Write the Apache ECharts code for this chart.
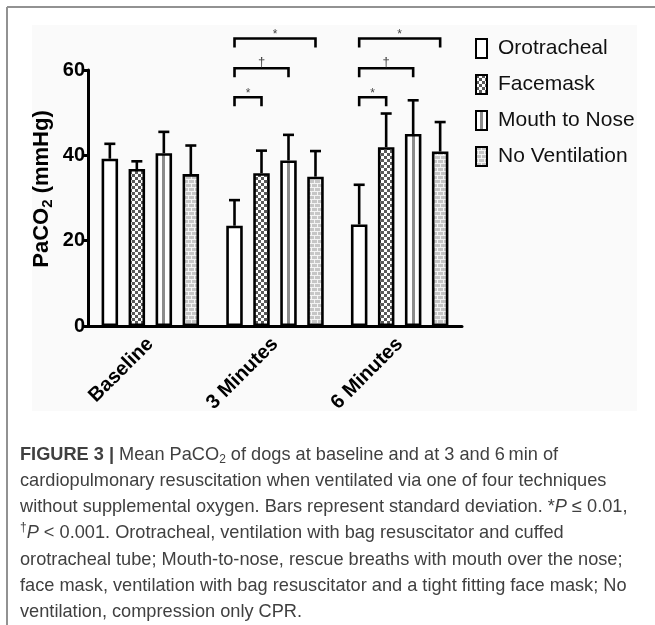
<!DOCTYPE html>
<html><head><meta charset="utf-8">
<script src="https://cdn.jsdelivr.net/npm/echarts@6/dist/echarts.min.js"></script>
<style>html,body{margin:0;padding:0;background:#fff}#c{width:655px;height:625px}</style>
</head><body><div id="c"></div>
<script>
// ---------------- data ----------------
const categories = ['Baseline', '3 Minutes', '6 Minutes'];
const seriesNames = ['Orotracheal', 'Facemask', 'Mouth to Nose', 'No Ventilation'];
const orotrachealMean = [39.2, 23.5, 23.8];
const facemaskMean = [36.8, 35.8, 41.9];
const mouthToNoseMean = [40.5, 38.8, 45.0];
const noVentilationMean = [35.6, 35.0, 40.9];
const orotrachealSD = [3.5, 6.0, 9.3];
const facemaskSD = [1.8, 5.3, 7.9];
const mouthToNoseSD = [5.0, 6.0, 7.9];
const noVentilationSD = [6.7, 6.0, 6.9];
const yTicks = [0, 20, 40, 60];
// significance brackets (category index, from series, to series, level in mmHg, mark)
const bracketCategory = [1, 1, 1, 2, 2, 2];
const bracketFrom = [0, 0, 0, 0, 0, 0];
const bracketTo = [1, 2, 3, 1, 2, 3];
const bracketLevel = [53.6, 60.4, 67.4, 53.6, 60.4, 67.4];
const bracketMark = ['*', '\u2020', '*', '*', '\u2020', '*'];

// ---------------- styling helpers ----------------
const FAMILY = '"Liberation Sans", Arial, Helvetica, sans-serif';
const BAR_W = 16.5, BAR_GAP = 0.636;
const BAR_STEP = BAR_W * (1 + BAR_GAP);

function checkerPattern() {
  const c = document.createElement('canvas'); c.width = 6; c.height = 6;
  const g = c.getContext('2d');
  g.fillStyle = '#ffffff'; g.fillRect(0, 0, 6, 6);
  g.fillStyle = '#5a5a5a'; g.fillRect(0, 0, 3, 3); g.fillRect(3, 3, 3, 3);
  return { image: c, repeat: 'repeat' };
}
function brickPattern() {
  const c = document.createElement('canvas'); c.width = 12; c.height = 8;
  const g = c.getContext('2d');
  g.fillStyle = '#f4f4f4'; g.fillRect(0, 0, 12, 8);
  g.fillStyle = '#c6c6c6';
  g.fillRect(0, 0, 5, 3); g.fillRect(6, 0, 5, 3);
  g.fillRect(-3, 4, 5, 3); g.fillRect(3, 4, 5, 3); g.fillRect(9, 4, 5, 3);
  return { image: c, repeat: 'repeat' };
}
const stripe = {
  type: 'linear', x: 0, y: 0, x2: 1, y2: 0,
  colorStops: [
    { offset: 0, color: '#ffffff' }, { offset: 0.4, color: '#ffffff' },
    { offset: 0.4, color: '#8c8c8c' }, { offset: 0.6, color: '#8c8c8c' },
    { offset: 0.6, color: '#ffffff' }, { offset: 1, color: '#ffffff' }
  ]
};
const fills = ['#ffffff', checkerPattern(), stripe, brickPattern()];

const means = [orotrachealMean, facemaskMean, mouthToNoseMean, noVentilationMean];
const sds = [orotrachealSD, facemaskSD, mouthToNoseSD, noVentilationSD];

const errData = [];
means.forEach((m, s) => m.forEach((v, c) => errData.push([c, v, v + sds[s][c], s])));
const brData = bracketCategory.map((c, i) => [c, bracketLevel[i], bracketFrom[i], bracketTo[i]]);

// text runs (measured) for rich caption / axis title
const mctx = document.createElement('canvas').getContext('2d');
function fontOf(s, base) {
  return `${s.it ? 'italic ' : ''}${s.b ? 'bold ' : ''}${s.size || base.size}px ${FAMILY}`;
}
function runEls(segs, base, startX, y) {
  let x = startX; const els = [];
  segs.forEach(s => {
    const font = fontOf(s, base);
    mctx.font = font;
    els.push({
      type: 'text', x: x, y: y + (s.dy || 0), silent: true,
      style: { text: s.t, font: font, fill: base.fill, align: 'left', textAlign: 'left', verticalAlign: 'middle', textVerticalAlign: 'middle' }
    });
    x += mctx.measureText(s.t).width;
  });
  return { els, width: x - startX };
}

// caption
const capBase = { size: 18.2, fill: '#404040' };
const captionLines = [
  [{ t: 'FIGURE 3 |', b: true }, { t: ' Mean PaCO' }, { t: '2', size: 12, dy: 5 }, { t: ' of dogs at baseline and at 3 and 6\u2009min of' }],
  [{ t: 'cardiopulmonary resuscitation when ventilated via one of four techniques' }],
  [{ t: 'without supplemental oxygen. Bars represent standard deviation. *' }, { t: 'P', it: true }, { t: ' \u2264 0.01,' }],
  [{ t: '\u2020', size: 12, dy: -5 }, { t: 'P', it: true }, { t: ' < 0.001. Orotracheal, ventilation with bag resuscitator and cuffed' }],
  [{ t: 'orotracheal tube; Mouth-to-nose, rescue breaths with mouth over the nose;' }],
  [{ t: 'face mask, ventilation with bag resuscitator and a tight fitting face mask; No' }],
  [{ t: 'ventilation, compression only CPR.' }]
];
const captionY = [455, 481, 507, 533, 560, 586, 612];
const captionEls = [];
captionLines.forEach((segs, i) => captionEls.push(...runEls(segs, capBase, 20, captionY[i]).els));

// y-axis title (rotated)
const ytBase = { size: 22, fill: '#000' };
const ytSegs = [{ t: 'PaCO', b: true }, { t: '2', b: true, size: 15, dy: 6 }, { t: ' (mmHg)', b: true }];
const ytMeasure = runEls(ytSegs, ytBase, 0, 0);
const ytRun = runEls(ytSegs, ytBase, -ytMeasure.width / 2, 0);

const chart = echarts.init(document.getElementById('c'), null, { renderer: 'canvas' });
chart.setOption({
  animation: false,
  backgroundColor: '#ffffff',
  grid: { left: 88, top: 70, width: 374, height: 256 },
  legend: {
    data: seriesNames, orient: 'vertical', left: 470, top: 33,
    icon: 'rect', itemWidth: 11, itemHeight: 19, itemGap: 15,
    textStyle: { fontFamily: FAMILY, fontSize: 21, color: '#111', padding: [0, 0, 0, 6] },
    selectedMode: false
  },
  xAxis: {
    type: 'category', data: categories,
    axisLine: { lineStyle: { color: '#000', width: 3 } },
    axisTick: { alignWithLabel: true, length: 6, lineStyle: { color: '#000', width: 3 } },
    axisLabel: { rotate: 45, fontFamily: FAMILY, fontWeight: 'bold', fontSize: 20, color: '#000', margin: 15 }
  },
  yAxis: {
    type: 'value', min: yTicks[0], max: yTicks[yTicks.length - 1], interval: 20,
    axisLine: { show: true, lineStyle: { color: '#000', width: 3 } },
    axisTick: { show: true, length: 6, lineStyle: { color: '#000', width: 3 } },
    axisLabel: { fontFamily: FAMILY, fontWeight: 'bold', fontSize: 20, color: '#000', margin: 3 },
    splitLine: { show: false }
  },
  graphic: [
    { type: 'rect', z: -10, silent: true, shape: { x: 32, y: 25, width: 605, height: 386 }, style: { fill: '#fafafa' } },
    { type: 'line', silent: true, shape: { x1: 7, y1: 7, x2: 655, y2: 7 }, style: { stroke: '#929292', lineWidth: 2 } },
    { type: 'line', silent: true, shape: { x1: 7, y1: 7, x2: 7, y2: 625 }, style: { stroke: '#929292', lineWidth: 2 } },
    { type: 'group', x: 42, y: 189, rotation: Math.PI / 2, children: ytRun.els },
    { type: 'group', children: captionEls }
  ],
  series: seriesNames.map((name, s) => ({
    name, type: 'bar', data: means[s], barWidth: BAR_W, barGap: (BAR_GAP * 100) + '%',
    itemStyle: { color: fills[s], borderColor: '#000', borderWidth: 2.6 },
    emphasis: { disabled: true }
  })).concat([
    {
      type: 'custom', name: 'SD', z: 5, silent: true, encode: { x: 0, y: 1 }, data: errData,
      renderItem: (params, api) => {
        const c = api.value(0), s = api.value(3);
        const p0 = api.coord([c, api.value(1)]), p1 = api.coord([c, api.value(2)]);
        const x = p0[0] + (s - 1.5) * BAR_STEP;
        return { type: 'group', children: [
          { type: 'line', shape: { x1: x, y1: p0[1], x2: x, y2: p1[1] }, style: { stroke: '#000', lineWidth: 2.6 } },
          { type: 'line', shape: { x1: x - 5.5, y1: p1[1], x2: x + 5.5, y2: p1[1] }, style: { stroke: '#000', lineWidth: 2.6 } }
        ] };
      }
    },
    {
      type: 'custom', name: 'sig', z: 5, silent: true, clip: false, encode: { x: 0, y: 1 }, data: brData,
      renderItem: (params, api) => {
        const c = api.value(0), lev = api.value(1), f = api.value(2), t = api.value(3);
        const p = api.coord([c, lev]);
        const xl = p[0] + (f - 1.5) * BAR_STEP, xr = p[0] + (t - 1.5) * BAR_STEP, y = p[1];
        const mark = bracketMark[params.dataIndex];
        const isStar = mark === '*';
        return { type: 'group', children: [
          { type: 'polyline', shape: { points: [[xl, y + 9], [xl, y], [xr, y], [xr, y + 9]] }, style: { stroke: '#000', lineWidth: 2.6, fill: 'none' } },
          { type: 'text', x: (xl + xr) / 2, y: isStar ? y - 4 : y - 6,
            style: { text: mark, font: `${isStar ? 12 : 13}px ${FAMILY}`, fill: '#444', align: 'center', textAlign: 'center', verticalAlign: 'middle', textVerticalAlign: 'middle' } }
        ] };
      }
    }
  ])
});
</script></body></html>
